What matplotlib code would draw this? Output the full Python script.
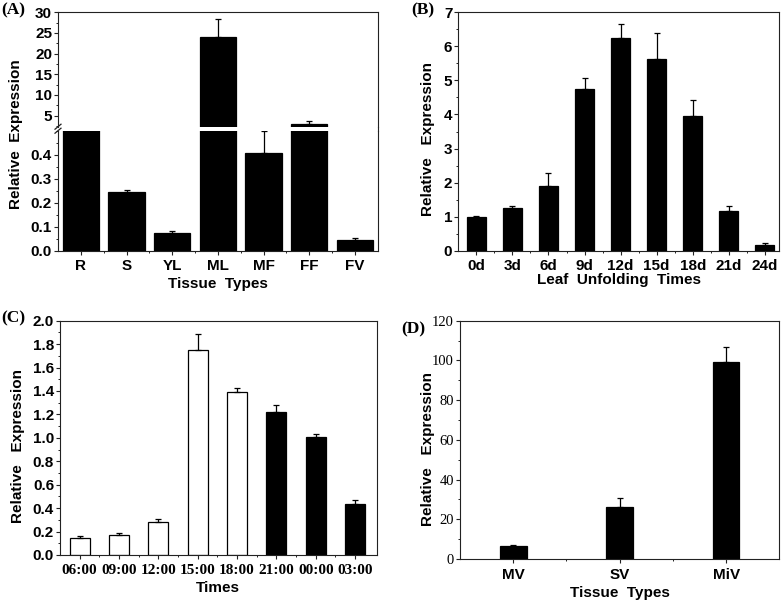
import matplotlib
matplotlib.use('Agg')
import matplotlib.pyplot as plt
import numpy as np
from matplotlib.ticker import MultipleLocator, FixedLocator, FormatStrFormatter
from matplotlib.lines import Line2D

# ---------------- data ----------------
tissues_a = ['R', 'S', 'YL', 'ML', 'MF', 'FF', 'FV']
expr_a = [1.0, 0.245, 0.073, 24.1, 0.407, 3.0, 0.045]
err_a = [0.0, 0.007, 0.010, 4.3, 0.09, 0.72, 0.008]

days_b = ['0d', '3d', '6d', '9d', '12d', '15d', '18d', '21d', '24d']
expr_b = [1.0, 1.25, 1.91, 4.75, 6.245, 5.62, 3.95, 1.18, 0.17]
err_b = [0.02, 0.07, 0.38, 0.33, 0.41, 0.78, 0.48, 0.12, 0.06]

times_c = ['06:00', '09:00', '12:00', '15:00', '18:00', '21:00', '00:00', '03:00']
expr_c = [0.142, 0.171, 0.279, 1.75, 1.394, 1.223, 1.01, 0.438]
err_c = [0.022, 0.02, 0.03, 0.14, 0.03, 0.06, 0.025, 0.035]
phase_c = ['light', 'light', 'light', 'light', 'light', 'dark', 'dark', 'dark']

tissues_d = ['MV', 'SV', 'MiV']
expr_d = [6.5, 26.3, 99.3]
err_d = [0.8, 4.5, 7.6]

# ---------------- style ----------------
W, H = 783, 602
plt.rcParams['font.family'] = ['Liberation Sans', 'DejaVu Sans']
plt.rcParams['font.weight'] = 'bold'
plt.rcParams['axes.labelweight'] = 'bold'
SP = '#222222'
TICK_FS = 11
LAB_FS = 11

fig = plt.figure(figsize=(W / 100, H / 100), dpi=100)


def rect(l, t, r, b):
    return [l / W, 1 - b / H, (r - l) / W, (b - t) / H]


def style(ax, n):
    for s in ax.spines.values():
        s.set_linewidth(0.8)
        s.set_color(SP)
    ax.tick_params(which='major', direction='out', length=2.8, width=0.8,
                   color=SP, pad=1.5, labelsize=TICK_FS, top=False, right=False)
    ax.tick_params(which='minor', direction='out', length=1.6, width=0.7,
                   color=SP, top=False, right=False)
    ax.tick_params(axis='x', which='major', pad=3.5)
    ax.set_xticks(np.arange(n))
    ax.xaxis.set_minor_locator(FixedLocator(np.arange(0.5, n - 1, 1.0)))


def bars(ax, vals, errs, width, colors):
    x = np.arange(len(vals))
    ax.bar(x, vals, width, color=colors, edgecolor='black', linewidth=0.9)
    ax.errorbar(x, vals, yerr=[np.zeros(len(errs)), errs], fmt='none',
                ecolor='black', elinewidth=0.9, capsize=2.5, capthick=0.9)


# ---------------- panel A (broken axis) ----------------
axA_up = fig.add_axes(rect(58, 12.3, 377.7, 126.7))
axA_lo = fig.add_axes(rect(58, 130.7, 377.7, 250.7))
for ax in (axA_up, axA_lo):
    bars(ax, expr_a, err_a, 0.79, 'black')
    style(ax, len(tissues_a))
    ax.set_xlim(-0.5, 6.5)
axA_up.set_ylim(2.33, 30)
axA_up.yaxis.set_major_locator(FixedLocator([5, 10, 15, 20, 25, 30]))
axA_up.yaxis.set_minor_locator(MultipleLocator(2.5))
axA_up.spines['bottom'].set_visible(False)
axA_up.tick_params(axis='x', which='both', bottom=False, labelbottom=False)
axA_lo.set_ylim(0, 0.5)
axA_lo.yaxis.set_major_locator(FixedLocator([0.0, 0.1, 0.2, 0.3, 0.4]))
axA_lo.yaxis.set_minor_locator(MultipleLocator(0.05))
axA_lo.yaxis.set_major_formatter(FormatStrFormatter('%.1f'))
axA_lo.spines['top'].set_visible(False)
axA_lo.set_xticklabels(tissues_a)
axA_lo.set_xlabel('Tissue  Types', fontsize=LAB_FS, va='center')
axA_lo.xaxis.set_label_coords(0.5, -0.2775)
axA_lo.set_ylabel('Relative  Expression', fontsize=LAB_FS, va='center')
axA_lo.yaxis.set_label_coords(-0.132, 0.972)
# break marks on the left spine and continuous right spine
for yy in (126.7, 130.7):
    fig.add_artist(Line2D([55 / W, 61 / W], [1 - (yy + 2.5) / H, 1 - (yy - 2.5) / H],
                          color=SP, lw=0.9))
fig.add_artist(Line2D([377.7 / W, 377.7 / W], [1 - 126.7 / H, 1 - 130.7 / H],
                      color=SP, lw=0.8))

# ---------------- panel B ----------------
axB = fig.add_axes(rect(458.3, 12.3, 779.3, 250.7))
bars(axB, expr_b, err_b, 0.52, 'black')
style(axB, len(days_b))
axB.set_xlim(-0.5, 8.4)
axB.set_ylim(0, 7)
axB.yaxis.set_major_locator(MultipleLocator(1))
axB.yaxis.set_minor_locator(MultipleLocator(0.5))
axB.set_xticklabels(days_b)
axB.set_xlabel('Leaf  Unfolding  Times', fontsize=LAB_FS, va='center')
axB.xaxis.set_label_coords(0.5, -0.123)
axB.set_ylabel('Relative   Expression', fontsize=LAB_FS, va='center')
axB.yaxis.set_label_coords(-0.0953, 0.4685)

# ---------------- panel C ----------------
axC = fig.add_axes(rect(60, 320.7, 376.7, 555))
fill_c = ['white' if p == 'light' else 'black' for p in phase_c]
bars(axC, expr_c, err_c, 0.51, fill_c)
style(axC, len(times_c))
axC.set_xlim(-0.5, 7.55)
axC.set_ylim(0, 2.0)
axC.yaxis.set_major_locator(MultipleLocator(0.2))
axC.yaxis.set_minor_locator(MultipleLocator(0.1))
axC.yaxis.set_major_formatter(FormatStrFormatter('%.1f'))
axC.set_xticklabels(times_c, family=['Liberation Serif'], fontweight='bold', fontsize=11)
axC.set_xlabel('Times', fontsize=LAB_FS, va='center')
axC.xaxis.set_label_coords(0.5, -0.1396)
axC.set_ylabel('Relative   Expression', fontsize=LAB_FS, va='center')
axC.yaxis.set_label_coords(-0.1317, 0.466)

# ---------------- panel D ----------------
axD = fig.add_axes(rect(460, 320.7, 779.3, 559))
bars(axD, expr_d, err_d, 0.25, 'black')
style(axD, len(tissues_d))
axD.set_xlim(-0.5, 2.5)
axD.set_ylim(0, 120)
axD.yaxis.set_major_locator(MultipleLocator(20))
axD.yaxis.set_minor_locator(MultipleLocator(10))
axD.set_xticklabels(tissues_d)
for lab in axD.get_yticklabels():
    lab.set_family(['Liberation Serif'])
    lab.set_fontweight('normal')
    lab.set_fontsize(10.5)
axD.set_xlabel('Tissue  Types', fontsize=LAB_FS, va='center')
axD.xaxis.set_label_coords(0.5, -0.141)
axD.set_ylabel('Relative   Expression', fontsize=LAB_FS, va='center')
axD.yaxis.set_label_coords(-0.101, 0.4616)

# ---------------- panel letters ----------------
for txt, x, y in [('(A)', 1, 2), ('(B)', 411.7, 2.5), ('(C)', 1.7, 310.5), ('(D)', 401.7, 321.5)]:
    fig.text(x / W, 1 - y / H, txt, family=['Liberation Serif'], fontweight='bold',
             fontsize=12.5, ha='left', va='top')

fig.savefig('out.png', dpi=100)
